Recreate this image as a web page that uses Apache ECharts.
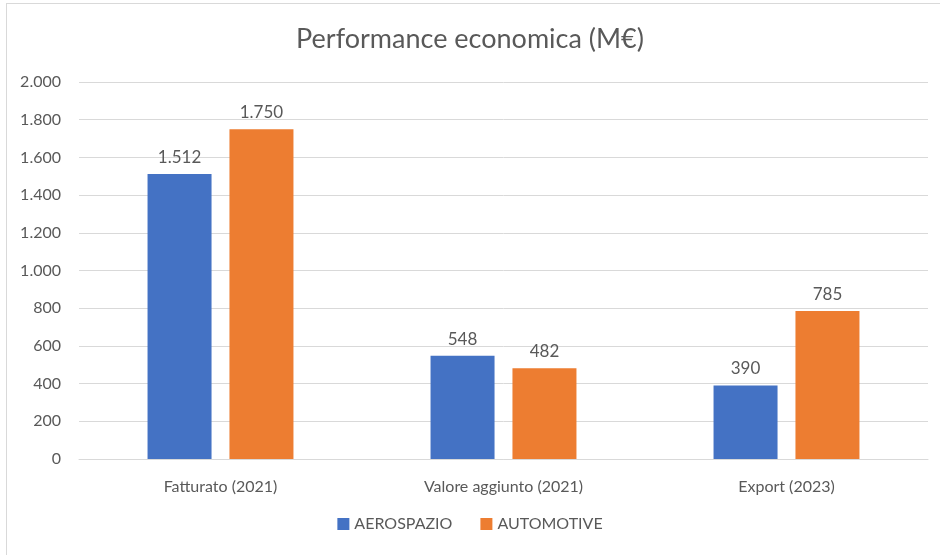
<!DOCTYPE html>
<html>
<head>
<meta charset="utf-8">
<script src="https://cdn.jsdelivr.net/npm/echarts@6/dist/echarts.min.js"></script>
<style>
    body { margin: 0; background: #ffffff; overflow: hidden; }
    #frame { position: absolute; left: 6px; top: 3px; width: 960px; height: 580px; border: 1px solid #d9d9d9; }
    #container { position: absolute; left: 0; top: 0; width: 940px; height: 555px; }
</style>
</head>
<body>
<div id="frame"></div>
<div id="container"></div>
<script>
var categories = ['Fatturato (2021)', 'Valore aggiunto (2021)', 'Export (2023)'];
var aerospazio = [1512, 548, 390];
var automotive = [1750, 482, 785];
var yTicks = [0, 200, 400, 600, 800, 1000, 1200, 1400, 1600, 1800, 2000];

var font = 'Lato';
var grey = '#595959';

// formato italiano: 1.512
function fmt(v) {
    return String(v).replace(/\B(?=(\d{3})+(?!\d))/g, '.');
}

var dom = document.getElementById('container');
var myChart = echarts.init(dom);

var option = {
    backgroundColor: 'transparent',
    animation: false,
    title: {
        text: 'Performance economica (M€)',
        left: 'center',
        top: 21,
        textStyle: {
            color: grey,
            fontSize: 27,
            fontWeight: 'normal',
            fontFamily: font
        }
    },
    legend: {
        data: ['AEROSPAZIO', 'AUTOMOTIVE'],
        bottom: 18,
        left: 'center',
        itemWidth: 12,
        itemHeight: 12,
        itemGap: 28,
        icon: 'rect',
        textStyle: {
            color: grey,
            fontSize: 16,
            fontFamily: font
        }
    },
    grid: {
        left: 79,
        right: 12,
        top: 82,
        bottom: 96
    },
    xAxis: [{
        type: 'category',
        data: categories,
        axisTick: { show: false },
        axisLine: {
            show: true,
            lineStyle: { color: '#d9d9d9', width: 1 }
        },
        axisLabel: {
            color: grey,
            fontSize: 16,
            fontFamily: font,
            margin: 20
        }
    }],
    yAxis: [{
        type: 'value',
        min: yTicks[0],
        max: yTicks[yTicks.length - 1],
        interval: 200,
        axisTick: { show: false },
        axisLine: { show: false },
        splitLine: {
            lineStyle: { color: '#d9d9d9', width: 1 }
        },
        axisLabel: {
            color: grey,
            fontSize: 16,
            fontFamily: font,
            margin: 18,
            formatter: function (v) { return fmt(v); }
        }
    }],
    series: [{
        name: 'AEROSPAZIO',
        type: 'bar',
        data: aerospazio,
        barWidth: 64,
        barGap: '28%',
        itemStyle: { color: '#4472c4' },
        label: {
            show: true,
            position: 'top',
            distance: 8,
            color: grey,
            fontSize: 17,
            fontFamily: font,
            formatter: function (p) { return fmt(p.value); }
        }
    }, {
        name: 'AUTOMOTIVE',
        type: 'bar',
        data: automotive,
        barWidth: 64,
        itemStyle: { color: '#ed7d31' },
        label: {
            show: true,
            position: 'top',
            distance: 8,
            color: grey,
            fontSize: 17,
            fontFamily: font,
            formatter: function (p) { return fmt(p.value); }
        }
    }]
};

myChart.setOption(option, true);
</script>
</body>
</html>
